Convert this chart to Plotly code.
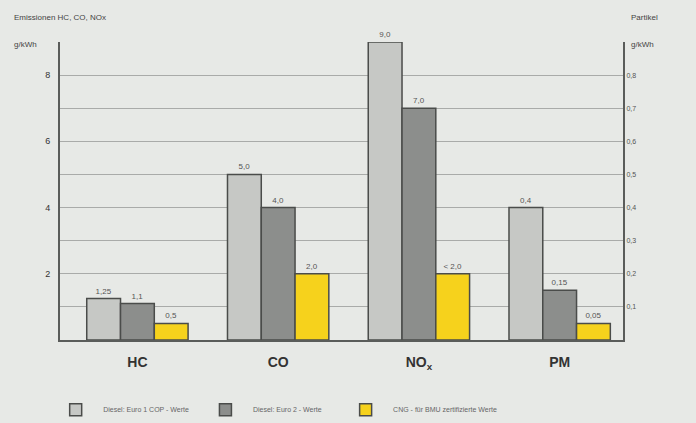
import plotly.graph_objects as go

categories = ["HC", "CO", "NO<sub>x</sub>"]
pm_category = ["PM"]
series_names = ["Diesel: Euro 1 COP - Werte", "Diesel: Euro 2 - Werte", "CNG - für BMU zertifizierte Werte"]
euro1 = [1.25, 5.0, 9.0]
euro2 = [1.1, 4.0, 7.0]
cng = [0.5, 2.0, 2.0]
pm_values = [0.4, 0.15, 0.05]
labels_main = [["1,25", "5,0", "9,0"], ["1,1", "4,0", "7,0"], ["0,5", "2,0", "< 2,0"]]
labels_pm = ["0,4", "0,15", "0,05"]
left_ticks = [2, 4, 6, 8]
left_ticktext = ["2", "4", "6", "8"]
right_ticks = [0.1, 0.2, 0.3, 0.4, 0.5, 0.6, 0.7, 0.8]
right_ticktext = ["0,1", "0,2", "0,3", "0,4", "0,5", "0,6", "0,7", "0,8"]

colors = ["#c6c8c5", "#8c8e8c", "#f6d21c"]
outline = "#4a4c4a"
offsets = [-0.36, -0.12, 0.12]
width = 0.24
xcats = categories + pm_category
legend_ids = ["legend", "legend2", "legend3"]
legend_x = [-0.021, 0.245, 0.494]

fig = go.Figure()
main_series = [euro1, euro2, cng]
for i in range(3):
    fig.add_trace(go.Bar(
        x=categories, y=main_series[i], name=series_names[i],
        marker=dict(color=colors[i], line=dict(color=outline, width=1.5)),
        width=width, offset=offsets[i],
        text=labels_main[i], textposition="outside", cliponaxis=False,
        textfont=dict(size=8, color="#555555", family="Liberation Sans"),
        yaxis="y", legendgroup=str(i), legend=legend_ids[i],
    ))
for i in range(3):
    fig.add_trace(go.Bar(
        x=pm_category, y=[pm_values[i]], name=series_names[i],
        marker=dict(color=colors[i], line=dict(color=outline, width=1.5)),
        width=width, offset=offsets[i],
        text=[labels_pm[i]], textposition="outside", cliponaxis=False,
        textfont=dict(size=8, color="#555555", family="Liberation Sans"),
        yaxis="y2", legendgroup=str(i), showlegend=False, legend=legend_ids[i],
    ))

bg = "#e7e9e6"
grid = "#a9aba9"
legend_style = dict(
    orientation="h", y=-0.185, xanchor="left", yanchor="top",
    font=dict(size=7, color="#666666"), bgcolor="rgba(0,0,0,0)", itemwidth=45,
)
fig.update_layout(
    width=696, height=423,
    margin=dict(l=60, r=73, t=42, b=83, autoexpand=False),
    paper_bgcolor=bg, plot_bgcolor=bg,
    barmode="overlay",
    font=dict(family="Liberation Sans", color="#444444"),
    xaxis=dict(
        categoryorder="array", categoryarray=xcats, range=[-0.55, 3.45],
        showgrid=False, showline=True, linecolor="#5a5c5a", linewidth=2,
        ticks="", tickfont=dict(size=14, color="#333333", family="Liberation Sans"),
        ticklabelstandoff=8,
    ),
    yaxis=dict(
        range=[0, 9], tickvals=left_ticks, ticktext=left_ticktext,
        showgrid=True, gridcolor=grid, gridwidth=1,
        minor=dict(tick0=0, dtick=1, showgrid=True, gridcolor=grid, gridwidth=1, ticks=""),
        showline=True, linecolor="#5a5c5a", linewidth=2,
        ticks="", tickfont=dict(size=9, color="#333333"), zeroline=False,
        ticklabelstandoff=6,
    ),
    yaxis2=dict(
        range=[0, 0.9], tickvals=right_ticks, ticktext=right_ticktext,
        overlaying="y", side="right", showgrid=False,
        showline=True, linecolor="#5a5c5a", linewidth=2,
        ticks="", tickfont=dict(size=7, color="#555555"), zeroline=False,
    ),
    legend=dict(x=legend_x[0], **legend_style),
    legend2=dict(x=legend_x[1], **legend_style),
    legend3=dict(x=legend_x[2], **legend_style),
    showlegend=True,
)
fig.update_xaxes(tickvals=xcats, ticktext=["<b>HC</b>", "<b>CO</b>", "<b>NO<sub>x</sub></b>", "<b>PM</b>"])

fig.add_annotation(text="Emissionen HC, CO, NOx", xref="paper", yref="paper", x=-0.085, y=1.06,
                   xanchor="left", yanchor="bottom", showarrow=False, font=dict(size=8, color="#444444"))
fig.add_annotation(text="g/kWh", xref="paper", yref="paper", x=-0.085, y=0.99,
                   xanchor="left", yanchor="middle", showarrow=False, font=dict(size=8, color="#444444"))
fig.add_annotation(text="Partikel", xref="paper", yref="paper", x=1.01, y=1.06,
                   xanchor="left", yanchor="bottom", showarrow=False, font=dict(size=8, color="#444444"))
fig.add_annotation(text="g/kWh", xref="paper", yref="paper", x=1.01, y=0.99,
                   xanchor="left", yanchor="middle", showarrow=False, font=dict(size=8, color="#444444"))

fig.write_html("out.html", config={"displayModeBar": False},
               post_script="document.body.style.margin='0px';")
